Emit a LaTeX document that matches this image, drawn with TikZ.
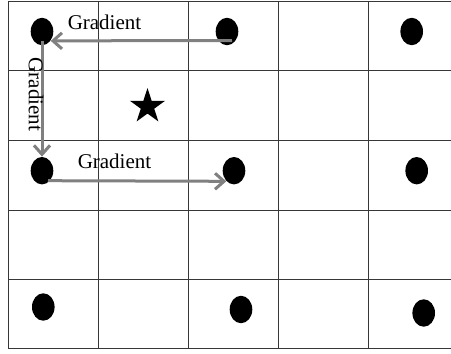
\documentclass[tikz,border=0pt]{standalone}
\usepackage{fontspec}
\setmainfont{Liberation Serif}
\usepackage{tikz}
\usetikzlibrary{arrows.meta,shapes.geometric}
\definecolor{gridink}{RGB}{55,55,55}
\definecolor{gradink}{RGB}{128,128,128}

\begin{document}
\begin{tikzpicture}[x=0.5pt,y=-0.5pt,
  dot/.style={ellipse,fill=black,inner sep=0pt,minimum width=11.3pt,minimum height=13.7pt},
  grad/.style={gradink,line width=1.5pt,-{Straight Barb[length=4.5pt,width=8pt,line width=1.5pt]}},
  gradlabel/.style={font=\fontsize{10.5}{12}\selectfont,inner sep=0pt}]
 \useasboundingbox (0,0) rectangle (451,354);
 \fill[white] (0,0) rectangle (451,354);
 \foreach \x in {8.3,98.5,188.7,278.7,368.5}
   \draw[gridink,line width=0.65pt] (\x,1.5)--(\x,348.3);
 \foreach \y in {1.5,70.5,140.3,210.5,279.3,348.3}
   \draw[gridink,line width=0.65pt] (8.3,\y)--(451,\y);
 \node[dot] (d11) at (42,31.5){};
 \node[dot] (d12) at (227,31.5){};
 \node[dot] (d13) at (411.7,31.5){};
 \node[dot] (d21) at (42,170.7){};
 \node[dot] (d22) at (234,170.7){};
 \node[dot] (d23) at (416.7,170.7){};
 \node[dot] (d31) at (43.3,307){};
 \node[dot] (d32) at (241,309.5){};
 \node[dot] (d33) at (423.7,313){};
 \node[star,star points=5,star point ratio=2.618,fill=black,inner sep=0pt,minimum size=18.5pt] (target) at (147.5,106.5){};
 \draw[grad] ([shift={(5,9)}]d12.center) -- (d11.-47);
 \draw[grad] ([shift={(0,9)}]d11.center) -- (d21.north);
 \draw[grad] ([shift={(6,10)}]d21.center) -- (d22.-126);
 \node[gradlabel] (gtop) at (104.5,22){Gradient};
 \node[gradlabel,rotate=-90] (gside) at (36,94.5){Gradient};
 \node[gradlabel] (gbottom) at (114.5,161){Gradient};
\end{tikzpicture}
\end{document}
